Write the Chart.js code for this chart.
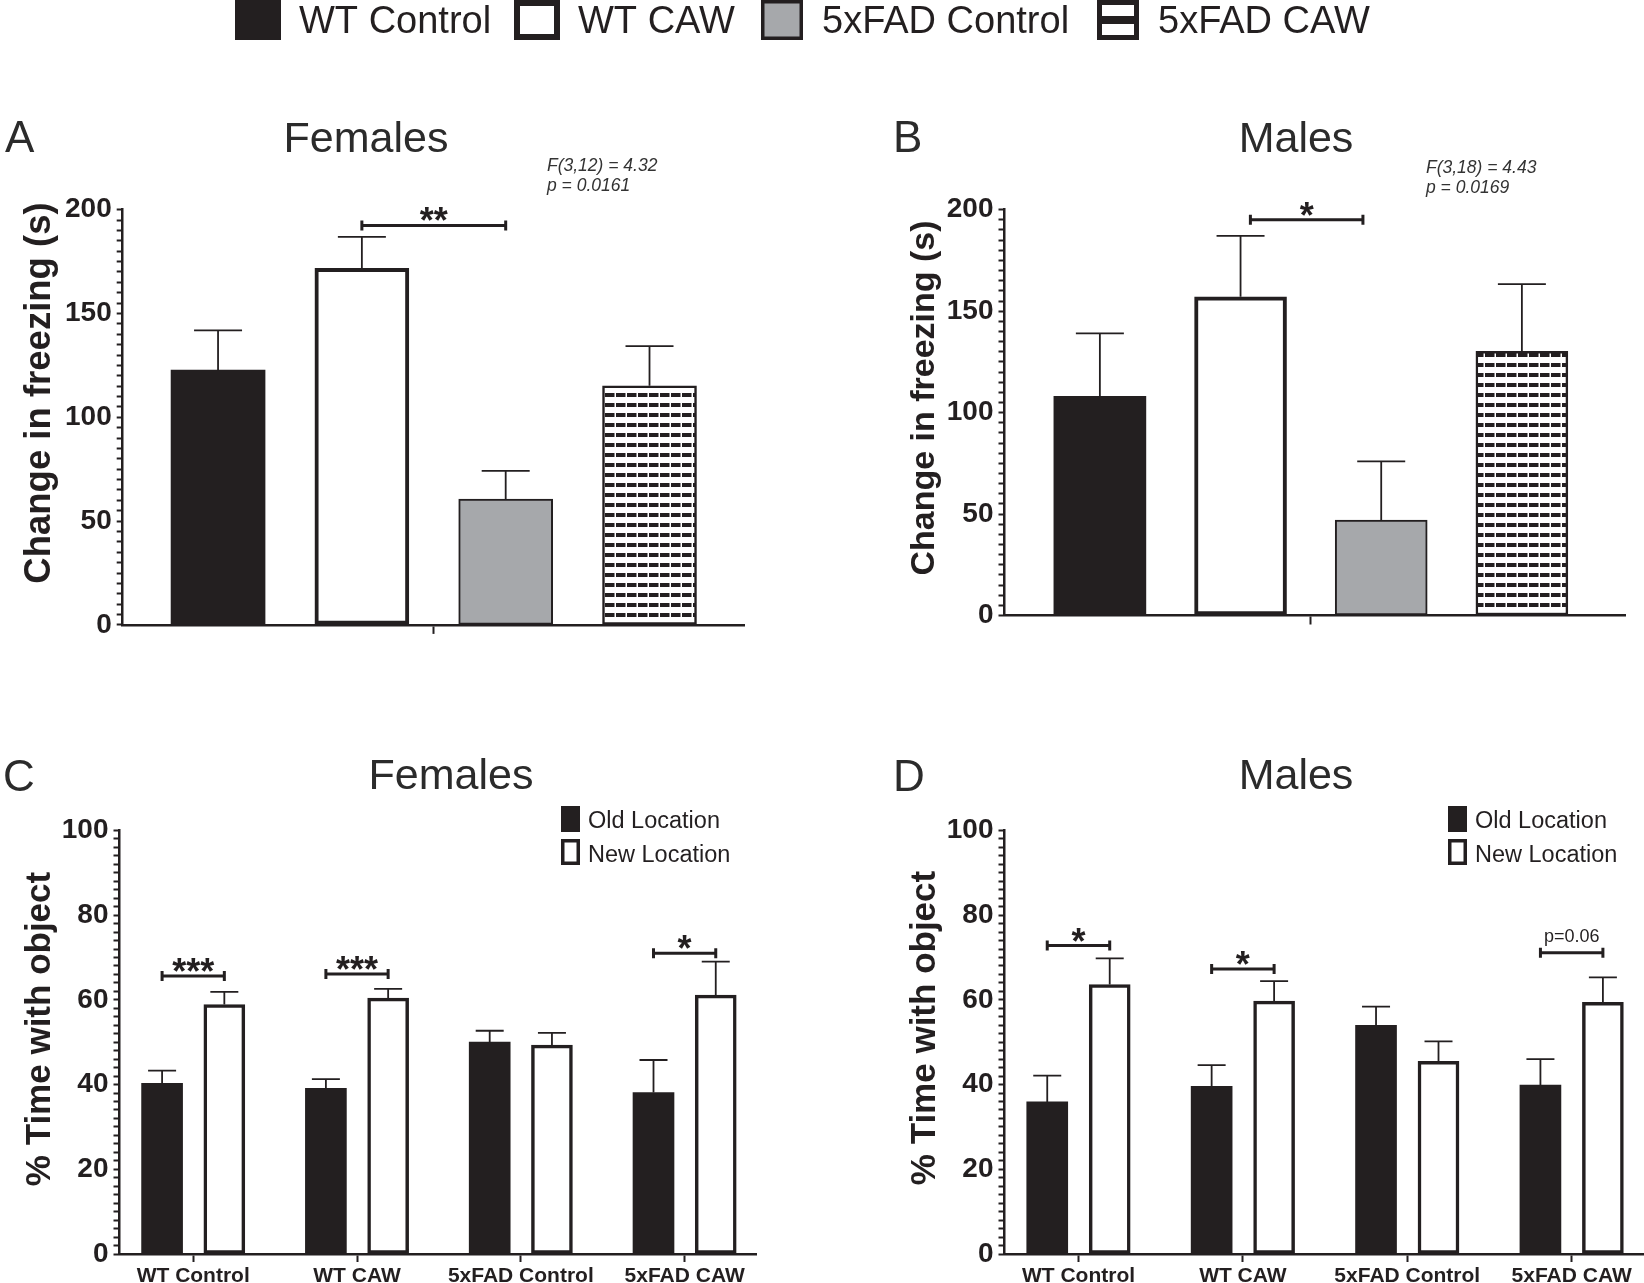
<!DOCTYPE html>
<html>
<head>
<meta charset="utf-8">
<title>Freezing and object location</title>
<script src="https://cdn.jsdelivr.net/npm/chart.js@4.4.0/dist/chart.umd.min.js"></script>
<style>
  html, body { margin: 0; padding: 0; background: #fff; }
  #wrap { position: relative; width: 1644px; height: 1283px; }
  #wrap canvas { position: absolute; left: 0; top: 0; }
</style>
</head>
<body>
<div id="wrap">
  <canvas id="chart-a" width="1644" height="1283"></canvas>
  <canvas id="chart-b" width="1644" height="1283"></canvas>
  <canvas id="chart-c" width="1644" height="1283"></canvas>
  <canvas id="chart-d" width="1644" height="1283"></canvas>
</div>
<script>
// groups and location labels
const groups = ["WT Control", "WT CAW", "5xFAD Control", "5xFAD CAW"];
const locations = ["Old Location", "New Location"];

// A / B : change in freezing (s), mean + SEM
const femalesFreezing = [122.7, 171.7, 60.6, 115.2];
const femalesFreezingSem = [19.2, 15.2, 13.6, 19.1];
const malesFreezing = [108.0, 157.1, 47.0, 130.2];
const malesFreezingSem = [31.0, 30.0, 29.0, 33.1];

// C / D : % time with object, mean + SEM
const femalesOld = [40.3, 39.1, 50.0, 38.1];
const femalesOldSem = [3.0, 2.2, 2.7, 7.7];
const femalesNew = [58.9, 60.4, 49.3, 61.1];
const femalesNewSem = [3.0, 2.2, 2.9, 7.9];
const malesOld = [35.9, 39.6, 54.0, 39.9];
const malesOldSem = [6.2, 5.0, 4.4, 6.1];
const malesNew = [63.6, 59.7, 45.5, 59.4];
const malesNewSem = [6.2, 4.7, 4.7, 5.9];

// labelled y ticks
const freezingTicks = [0, 50, 100, 150, 200];
const timeTicks = [0, 20, 40, 60, 80, 100];

// significance brackets
const femalesFreezingSig = [{ from: 1, to: 2, y: 192.4, label: "**" }];
const malesFreezingSig = [{ from: 1.07, to: 1.87, y: 195, label: "*" }];
const femalesTimeSig = [
  { group: 0, y: 65.6, label: "***" },
  { group: 1, y: 66.1, label: "***" },
  { group: 3, y: 71.0, label: "*" },
];
const malesTimeSig = [
  { group: 0, y: 72.8, label: "*" },
  { group: 1, y: 67.3, label: "*" },
  { group: 3, y: 71.1, label: "p=0.06" },
];

const femalesStats = ["F(3,12) = 4.32", "p = 0.0161"];
const malesStats = ["F(3,18) = 4.43", "p = 0.0169"];

const INK = "#231f20";
const GRAY = "#a6a8ab";
const FONT = "'Liberation Sans', Arial, sans-serif";
const PAIR_OFFSET = 0.19;

function makeHatch(ctx) {
  const c = document.createElement("canvas");
  c.width = 11;
  c.height = 10;
  const g = c.getContext("2d");
  g.fillStyle = "#fff";
  g.fillRect(0, 0, 11, 10);
  g.fillStyle = INK;
  g.fillRect(0, 3, 9.5, 4);
  return ctx.createPattern(c, "repeat");
}

function yTicks(step, labelled) {
  return {
    stepSize: step,
    autoSkip: false,
    padding: 5,
    color: INK,
    font: { family: FONT, size: 28, weight: "bold" },
    callback: (v) => (labelled.includes(v) ? v : ""),
  };
}

const axisGrid = {
  offset: false,
  drawOnChartArea: false,
  tickLength: 6,
  tickWidth: 2,
  tickColor: INK,
};
const axisBorder = { color: INK, width: 2.5 };

function drawErrorBars(chart, cap) {
  const ctx = chart.ctx;
  const ys = chart.scales.y;
  ctx.save();
  ctx.strokeStyle = INK;
  ctx.lineWidth = 1.8;
  chart.data.datasets.forEach((ds, di) => {
    chart.getDatasetMeta(di).data.forEach((bar, i) => {
      const top = ys.getPixelForValue(ds.data[i].y + ds.sem[i]);
      ctx.beginPath();
      ctx.moveTo(bar.x, bar.y);
      ctx.lineTo(bar.x, top);
      ctx.moveTo(bar.x - cap, top);
      ctx.lineTo(bar.x + cap, top);
      ctx.stroke();
    });
  });
  ctx.restore();
}

function drawBracket(chart, from, to, yv, label) {
  const ctx = chart.ctx;
  const x1 = chart.scales.x.getPixelForValue(from);
  const x2 = chart.scales.x.getPixelForValue(to);
  const y = chart.scales.y.getPixelForValue(yv);
  ctx.save();
  ctx.strokeStyle = INK;
  ctx.lineWidth = 3;
  ctx.beginPath();
  ctx.moveTo(x1, y);
  ctx.lineTo(x2, y);
  ctx.moveTo(x1, y - 5);
  ctx.lineTo(x1, y + 5);
  ctx.moveTo(x2, y - 5);
  ctx.lineTo(x2, y + 5);
  ctx.stroke();
  ctx.fillStyle = INK;
  ctx.textAlign = "center";
  ctx.textBaseline = "alphabetic";
  if (label.startsWith("p")) {
    ctx.font = "18px " + FONT;
    ctx.fillText(label, (x1 + x2) / 2, y - 11);
  } else {
    ctx.font = "bold 36px " + FONT;
    ctx.fillText(label, (x1 + x2) / 2, y + 8);
  }
  ctx.restore();
}

function drawText(ctx, text, x, y, font, color, align) {
  ctx.save();
  ctx.font = font;
  ctx.fillStyle = color || INK;
  ctx.textAlign = align || "left";
  ctx.textBaseline = "alphabetic";
  ctx.fillText(text, x, y);
  ctx.restore();
}

function drawYTitle(ctx, text, x, y, size) {
  ctx.save();
  ctx.translate(x, y);
  ctx.rotate(-Math.PI / 2);
  ctx.font = "bold " + size + "px " + FONT;
  ctx.fillStyle = INK;
  ctx.textAlign = "center";
  ctx.textBaseline = "middle";
  ctx.fillText(text, 0, 0);
  ctx.restore();
}

function panelDecor(cfg) {
  return {
    id: "panelDecor",
    afterDatasetsDraw(chart) {
      drawErrorBars(chart, cfg.cap);
      cfg.sig.forEach((s) => {
        if (s.group !== undefined) {
          drawBracket(chart, s.group - PAIR_OFFSET, s.group + PAIR_OFFSET, s.y, s.label);
        } else {
          drawBracket(chart, s.from, s.to, s.y, s.label);
        }
      });
    },
    afterDraw(chart) {
      const ctx = chart.ctx;
      drawText(ctx, cfg.letter, cfg.letterX, cfg.letterY, "44px " + FONT, "#2b2b2b");
      drawText(ctx, cfg.title, cfg.titleX, cfg.titleY, "43px " + FONT, "#2b2b2b", "center");
      drawYTitle(ctx, cfg.yTitle, cfg.yTitleX, cfg.yTitleY, cfg.yTitleSize);
      if (cfg.stats) {
        cfg.stats.forEach((t, i) =>
          drawText(ctx, t, cfg.statsX, cfg.statsY + i * 20, "italic 17.5px " + FONT, "#333")
        );
      }
      if (cfg.legendX !== undefined) {
        // Old / New location key
        ctx.save();
        ctx.fillStyle = INK;
        ctx.fillRect(cfg.legendX, cfg.legendY, 19, 26);
        ctx.strokeStyle = INK;
        ctx.lineWidth = 3.5;
        ctx.strokeRect(cfg.legendX + 1.75, cfg.legendY + 34.75, 15.5, 22.5);
        ctx.restore();
        locations.forEach((t, i) =>
          drawText(ctx, t, cfg.legendX + 27, cfg.legendY + 22 + i * 34, "23.5px " + FONT, INK)
        );
      }
      if (cfg.topLegend) drawTopLegend(ctx);
    },
  };
}

function drawTopLegend(ctx) {
  const boxes = [235, 514, 761, 1097];
  const texts = [299, 578, 822, 1158];
  ctx.save();
  ctx.fillStyle = INK;
  ctx.fillRect(boxes[0], 0, 46, 40);
  ctx.strokeStyle = INK;
  ctx.lineWidth = 6;
  ctx.strokeRect(boxes[1] + 3, 3, 40, 34);
  ctx.fillStyle = GRAY;
  ctx.fillRect(boxes[2], 0, 42, 40);
  ctx.lineWidth = 3.5;
  ctx.strokeRect(boxes[2] + 1.75, 1.75, 38.5, 36.5);
  ctx.lineWidth = 5;
  ctx.strokeRect(boxes[3] + 2.5, 2.5, 37, 35);
  ctx.fillStyle = INK;
  ctx.fillRect(boxes[3], 16, 42, 8);
  ctx.restore();
  groups.forEach((g, i) => drawText(ctx, g, texts[i], 33, "38px " + FONT, INK));
}

function freezingChart(id, values, sem, xRange, barWidth, pad, decor) {
  const canvas = document.getElementById(id);
  const hatch = makeHatch(canvas.getContext("2d"));
  return new Chart(canvas, {
    type: "bar",
    data: {
      datasets: [
        {
          label: "Change in freezing",
          data: values.map((v, i) => ({ x: i, y: v })),
          sem: sem,
          backgroundColor: [INK, "#fff", GRAY, hatch],
          borderColor: INK,
          borderWidth: [0, 4, 2, 2.5],
          borderSkipped: false,
          barThickness: barWidth,
          grouped: false,
        },
      ],
    },
    options: {
      responsive: false,
      animation: false,
      layout: { padding: pad },
      plugins: { legend: { display: false }, tooltip: { enabled: false } },
      scales: {
        x: {
          type: "linear",
          offset: false,
          min: xRange[0],
          max: xRange[1],
          afterBuildTicks: (s) => {
            s.ticks = [{ value: 1.5 }];
          },
          afterFit: (s) => {
            s.height = 20;
          },
          ticks: { autoSkip: false, callback: () => "" },
          grid: { ...axisGrid, tickLength: 9 },
          border: axisBorder,
        },
        y: {
          min: 0,
          max: 200,
          afterFit: (s) => {
            s.width = 80;
          },
          ticks: yTicks(5, freezingTicks),
          grid: axisGrid,
          border: axisBorder,
        },
      },
    },
    plugins: [panelDecor(decor)],
  });
}

function timeChart(id, oldV, oldSem, newV, newSem, pad, decor) {
  return new Chart(document.getElementById(id), {
    type: "bar",
    data: {
      datasets: [
        {
          label: locations[0],
          data: oldV.map((v, i) => ({ x: i - PAIR_OFFSET, y: v })),
          sem: oldSem,
          backgroundColor: INK,
          borderWidth: 0,
          barThickness: 41,
          grouped: false,
        },
        {
          label: locations[1],
          data: newV.map((v, i) => ({ x: i + PAIR_OFFSET, y: v })),
          sem: newSem,
          backgroundColor: "#fff",
          borderColor: INK,
          borderWidth: 3.5,
          borderSkipped: false,
          barThickness: 41,
          grouped: false,
        },
      ],
    },
    options: {
      responsive: false,
      animation: false,
      layout: { padding: pad },
      plugins: { legend: { display: false }, tooltip: { enabled: false } },
      scales: {
        x: {
          type: "linear",
          offset: false,
          min: -0.45,
          max: 3.44,
          afterBuildTicks: (s) => {
            s.ticks = groups.map((g, i) => ({ value: i }));
          },
          afterFit: (s) => {
            s.height = 29;
          },
          ticks: {
            autoSkip: false,
            maxRotation: 0,
            padding: 2,
            color: INK,
            font: { family: FONT, size: 21, weight: "bold" },
            callback: (v) => groups[v],
          },
          grid: { ...axisGrid, tickLength: 8 },
          border: axisBorder,
        },
        y: {
          min: 0,
          max: 100,
          afterFit: (s) => {
            s.width = 80;
          },
          ticks: yTicks(2, timeTicks),
          grid: axisGrid,
          border: axisBorder,
        },
      },
    },
    plugins: [panelDecor(decor)],
  });
}

freezingChart("chart-a", femalesFreezing, femalesFreezingSem, [-0.663, 3.657], 94,
  { left: 42.7, right: 900, top: 209.7, bottom: 638.1 },
  {
    cap: 24, sig: femalesFreezingSig,
    letter: "A", letterX: 5, letterY: 152,
    title: "Females", titleX: 366, titleY: 152,
    yTitle: "Change in freezing (s)", yTitleX: 40, yTitleY: 393, yTitleSize: 36.5,
    stats: femalesStats, statsX: 547, statsY: 171,
    topLegend: true,
  });

freezingChart("chart-b", malesFreezing, malesFreezingSem, [-0.678, 3.733], 92,
  { left: 924.5, right: 19, top: 209.7, bottom: 647.5 },
  {
    cap: 24, sig: malesFreezingSig,
    letter: "B", letterX: 893, letterY: 152,
    title: "Males", titleX: 1296, titleY: 152,
    yTitle: "Change in freezing (s)", yTitleX: 925, yTitleY: 398, yTitleSize: 34,
    stats: malesStats, statsX: 1426, statsY: 173,
  });

timeChart("chart-c", femalesOld, femalesOldSem, femalesNew, femalesNewSem,
  { left: 39.5, right: 887.3, top: 830.4, bottom: 0 },
  {
    cap: 14, sig: femalesTimeSig,
    letter: "C", letterX: 3, letterY: 791,
    title: "Females", titleX: 451, titleY: 789,
    yTitle: "% Time with object", yTitleX: 40, yTitleY: 1029, yTitleSize: 35,
    legendX: 561, legendY: 806,
  });

timeChart("chart-d", malesOld, malesOldSem, malesNew, malesNewSem,
  { left: 924.5, right: 0, top: 830.4, bottom: 0 },
  {
    cap: 14, sig: malesTimeSig,
    letter: "D", letterX: 893, letterY: 791,
    title: "Males", titleX: 1296, titleY: 789,
    yTitle: "% Time with object", yTitleX: 925, yTitleY: 1028, yTitleSize: 35,
    legendX: 1448, legendY: 806,
  });
</script>
</body>
</html>
